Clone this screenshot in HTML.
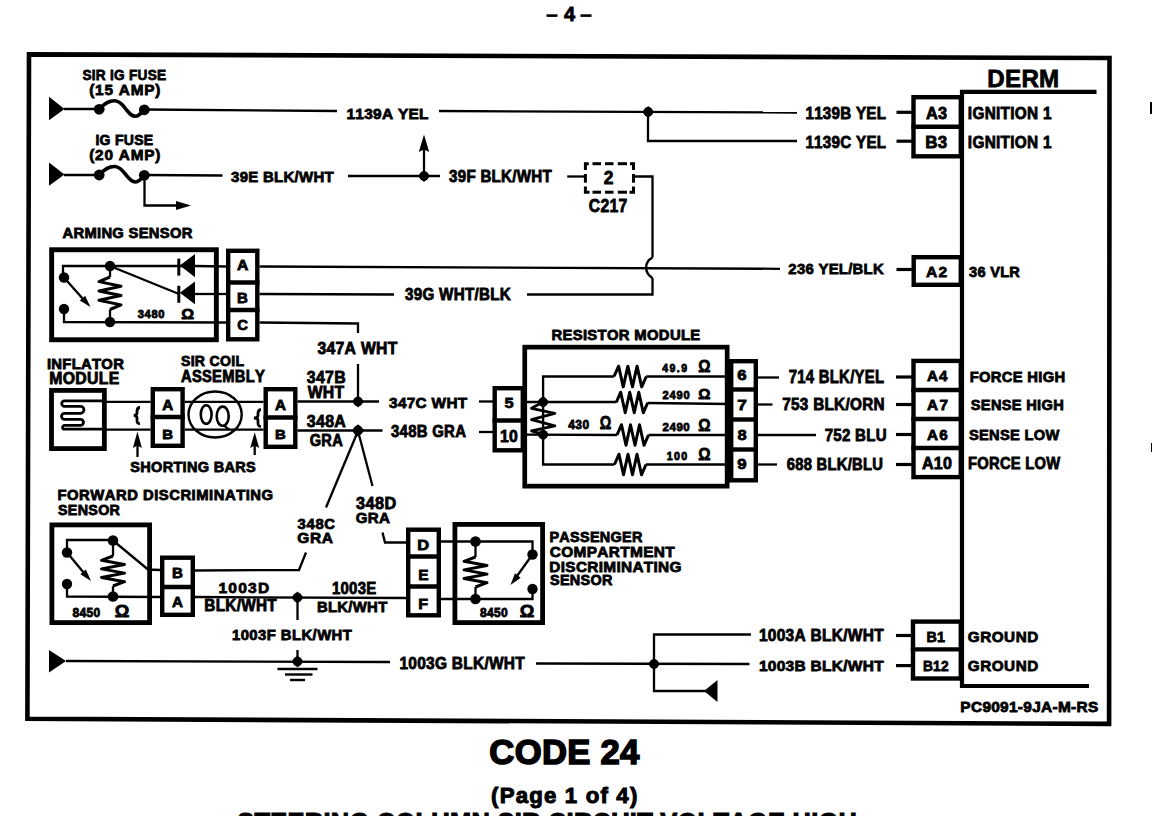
<!DOCTYPE html>
<html><head><meta charset="utf-8"><style>
html,body{margin:0;padding:0;background:#fff;}
svg{display:block;}
text{font-family:"Liberation Sans",sans-serif;font-weight:bold;fill:#000;stroke:#000;font-kerning:none;font-variant-ligatures:none;}
</style></head><body>
<svg width="1152" height="816" viewBox="0 0 1152 816">
<rect x="0" y="0" width="1152" height="816" fill="#fff"/>
<g stroke="#000" stroke-linecap="butt" fill="none">
<rect x="546.5" y="14.3" width="11" height="2.6" fill="#000" stroke="none"/>
<rect x="580.5" y="14.3" width="11" height="2.6" fill="#000" stroke="none"/>
<text transform="translate(564.09,20.80) scale(0.9895,1)" font-size="20.20" letter-spacing="0.000" stroke-width="0.8">4</text>
<path d="M29,54.4 L1109.5,58 L1109.1,723.9 L27.4,718.8 Z" stroke-width="4.6" fill="none"/>
<text transform="translate(82.46,79.80) scale(0.8770,1)" font-size="15.55" letter-spacing="0.300" stroke-width="0.8">SIR IG FUSE</text>
<text transform="translate(89.14,94.80) scale(1.0000,1)" font-size="15.33" letter-spacing="0.804" stroke-width="0.8">(15 AMP)</text>
<polygon points="49,96.8 64.5,108.9 49,120.2" stroke="none" fill="#000"/>
<line x1="64" y1="109" x2="99.5" y2="109" stroke-width="2.3"/>
<circle cx="99.2" cy="109.3" r="5.4" stroke="none" fill="#000"/>
<circle cx="144.3" cy="109.8" r="5.4" stroke="none" fill="#000"/>
<path d="M99.2,109.3 C105,103 109,100.5 115,100.8 C121,101.2 124,107 127,110.5 C130,114 132,116.3 135.5,116.3 C139,116.3 141,113 144.3,109.8" stroke-width="3.6" fill="none"/>
<line x1="144.5" y1="109.5" x2="337" y2="111" stroke-width="2.3"/>
<text transform="translate(346.42,118.80) scale(0.9922,1)" font-size="15.55" letter-spacing="0.300" stroke-width="0.8">1139A YEL</text>
<line x1="439" y1="111" x2="797" y2="112.5" stroke-width="2.3"/>
<polygon points="642.2,111.9 648.2,105.9 654.2,111.9 648.2,117.9" stroke="none" fill="#000"/>
<circle cx="648.2" cy="111.9" r="4.80" stroke="none" fill="#000"/>
<polyline points="648.00,112.00 648.00,141.00 797.00,141.00" stroke-width="2.3" fill="none"/>
<text transform="translate(805.42,118.80) scale(0.9321,1)" font-size="16.28" letter-spacing="0.300" stroke-width="0.8">1139B YEL</text>
<text transform="translate(805.40,147.80) scale(0.8937,1)" font-size="17.01" letter-spacing="0.300" stroke-width="0.8">1139C YEL</text>
<line x1="896.5" y1="112.3" x2="912" y2="112.3" stroke-width="3.2"/>
<line x1="896.5" y1="141.2" x2="912" y2="141.2" stroke-width="3.2"/>
<rect x="913.5" y="97.2" width="47.30000000000005" height="59.1" stroke-width="4.4" fill="none"/>
<line x1="911.3" y1="126.8" x2="963" y2="126.8" stroke-width="4.4"/>
<text transform="translate(925.99,118.80) scale(1.0000,1)" font-size="16.28" letter-spacing="0.384" stroke-width="0.8">A3</text>
<text transform="translate(925.27,147.80) scale(0.9959,1)" font-size="17.01" letter-spacing="0.300" stroke-width="0.8">B3</text>
<text transform="translate(967.85,118.80) scale(0.9444,1)" font-size="16.28" letter-spacing="0.300" stroke-width="0.8">IGNITION 1</text>
<text transform="translate(967.83,147.80) scale(0.9056,1)" font-size="17.01" letter-spacing="0.300" stroke-width="0.8">IGNITION 1</text>
<text transform="translate(987.28,86.80) scale(0.9940,1)" font-size="24.27" letter-spacing="0.300" stroke-width="0.8">DERM</text>
<line x1="960" y1="91.8" x2="1096.5" y2="91.8" stroke-width="4.2"/>
<line x1="962" y1="90" x2="962" y2="688" stroke-width="4.2"/>
<line x1="960" y1="686" x2="1089" y2="686" stroke-width="4.2"/>
<text transform="translate(95.44,145.30) scale(0.9447,1)" font-size="14.83" letter-spacing="0.300" stroke-width="0.8">IG FUSE</text>
<text transform="translate(89.14,159.80) scale(1.0000,1)" font-size="15.33" letter-spacing="0.804" stroke-width="0.8">(20 AMP)</text>
<polygon points="49,162.5 64.5,174.5 49,185.8" stroke="none" fill="#000"/>
<line x1="64" y1="175" x2="99.5" y2="175" stroke-width="2.3"/>
<circle cx="99.2" cy="175" r="5.4" stroke="none" fill="#000"/>
<circle cx="144.3" cy="175.3" r="5.4" stroke="none" fill="#000"/>
<path d="M99.2,175 C105,168.7 109,166.2 115,166.5 C121,166.9 124,172.7 127,176.2 C130,179.7 132,182 135.5,182 C139,182 141,178.7 144.3,175.3" stroke-width="3.6" fill="none"/>
<line x1="144.5" y1="175" x2="222.5" y2="175.5" stroke-width="2.3"/>
<polyline points="144.50,175.00 144.50,205.50 180.00,205.50" stroke-width="2.3" fill="none"/>
<polygon points="191,205.5 176,201 176,210" stroke="none" fill="#000"/>
<text transform="translate(231.04,181.80) scale(0.9629,1)" font-size="15.55" letter-spacing="0.300" stroke-width="0.8">39E BLK/WHT</text>
<line x1="348" y1="176" x2="440" y2="176" stroke-width="2.3"/>
<polygon points="418,176 424,170 430,176 424,182" stroke="none" fill="#000"/>
<circle cx="424" cy="176" r="4.80" stroke="none" fill="#000"/>
<line x1="424" y1="176" x2="424" y2="148" stroke-width="2.3"/>
<polygon points="424,134.5 418.8,152 424,149.5 429.2,152" stroke="none" fill="#000"/>
<text transform="translate(449.02,182.30) scale(0.9290,1)" font-size="16.28" letter-spacing="0.300" stroke-width="0.8">39F BLK/WHT</text>
<line x1="567.2" y1="176.5" x2="585.4" y2="176.5" stroke-width="2.3"/>
<polyline points="585.40,170.00 585.40,163.70 588.80,163.70" stroke-width="3.0" fill="none"/>
<polyline points="630.00,163.70 633.50,163.70 633.50,170.00" stroke-width="3.0" fill="none"/>
<polyline points="585.40,186.50 585.40,192.20 589.50,192.20" stroke-width="3.0" fill="none"/>
<polyline points="629.50,192.20 633.50,192.20 633.50,186.50" stroke-width="3.0" fill="none"/>
<line x1="592.5" y1="163.7" x2="601" y2="163.7" stroke-width="3.0"/>
<line x1="592.5" y1="192.2" x2="601" y2="192.2" stroke-width="3.0"/>
<line x1="605" y1="163.7" x2="613.5" y2="163.7" stroke-width="3.0"/>
<line x1="605" y1="192.2" x2="613.5" y2="192.2" stroke-width="3.0"/>
<line x1="617.8" y1="163.7" x2="627" y2="163.7" stroke-width="3.0"/>
<line x1="617.8" y1="192.2" x2="627" y2="192.2" stroke-width="3.0"/>
<line x1="585.4" y1="174" x2="585.4" y2="182.7" stroke-width="3.0"/>
<line x1="633.5" y1="174" x2="633.5" y2="182.7" stroke-width="3.0"/>
<text transform="translate(603.69,184.40) scale(0.9819,1)" font-size="17.59" letter-spacing="0.000" stroke-width="0.8">2</text>
<text transform="translate(588.81,211.60) scale(0.8947,1)" font-size="17.59" letter-spacing="0.300" stroke-width="0.8">C217</text>
<polyline points="633.50,176.50 652.50,176.50 652.50,257.50" stroke-width="2.3" fill="none"/>
<path d="M652.5,257.5 C644,262 644,273 652.5,278" stroke-width="2.4" fill="none"/>
<polyline points="652.50,278.00 652.50,294.50 527.00,294.50" stroke-width="2.3" fill="none"/>
<text transform="translate(62.53,238.30) scale(0.9956,1)" font-size="14.83" letter-spacing="0.300" stroke-width="0.8">ARMING SENSOR</text>
<rect x="51.650000000000006" y="249.75" width="164.70000000000002" height="89.99999999999997" stroke-width="4.9" fill="none"/>
<rect x="228.2" y="250.79999999999998" width="29.1" height="88.5" stroke-width="4.4" fill="none"/>
<line x1="226" y1="282.5" x2="259.5" y2="282.5" stroke-width="4.4"/>
<line x1="226" y1="310" x2="259.5" y2="310" stroke-width="4.4"/>
<text transform="translate(237.04,270.10) scale(1.0804,1)" font-size="14.53" letter-spacing="0.000" stroke-width="0.8">A</text>
<text transform="translate(237.12,303.30) scale(1.0640,1)" font-size="14.10" letter-spacing="0.000" stroke-width="0.8">B</text>
<text transform="translate(237.23,330.00) scale(0.9657,1)" font-size="15.41" letter-spacing="0.000" stroke-width="0.8">C</text>
<polyline points="195.00,266.00 63.00,266.00 63.00,277.00" stroke-width="2.3" fill="none"/>
<circle cx="64" cy="277.5" r="5.2" stroke="none" fill="#000"/>
<line x1="64" y1="277.5" x2="83" y2="299" stroke-width="2.3"/>
<polygon points="90.5,307 79.76414220781885,300.5423411776354 85.09171073626965,295.69909706086196" stroke="none" fill="#000"/>
<circle cx="64" cy="309" r="5.2" stroke="none" fill="#000"/>
<polyline points="64.00,309.00 64.00,322.00 226.00,322.50" stroke-width="2.3" fill="none"/>
<circle cx="110" cy="266" r="5.2" stroke="none" fill="#000"/>
<circle cx="110" cy="322" r="5.2" stroke="none" fill="#000"/>
<line x1="110" y1="266" x2="110" y2="277" stroke-width="2.3"/>
<polyline points="110.00,277.00 99.00,281.64 121.00,286.29 99.00,290.93 121.00,295.57 99.00,300.21 121.00,304.86 110.00,309.50" stroke-width="3" fill="none" stroke-linejoin="round"/>
<line x1="110" y1="309.5" x2="110" y2="322" stroke-width="2.3"/>
<line x1="110" y1="266" x2="179" y2="294" stroke-width="2.3"/>
<polygon points="179.8,265.6 195,254.00000000000003 195,277.20000000000005" stroke="none" fill="#000"/>
<line x1="178.8" y1="258.6" x2="178.8" y2="275.6" stroke-width="3"/>
<polygon points="179.8,292.8 195,281.40000000000003 195,304.2" stroke="none" fill="#000"/>
<line x1="178.8" y1="285.8" x2="178.8" y2="302.8" stroke-width="3"/>
<text transform="translate(137.74,317.90) scale(1.0000,1)" font-size="11.13" letter-spacing="0.653" stroke-width="0.8">3480</text>
<text transform="translate(181.37,319.30) scale(1.0603,1)" font-size="15.12" letter-spacing="0.000" stroke-width="0.8">Ω</text>
<line x1="195" y1="266" x2="226" y2="266.5" stroke-width="2.3"/>
<line x1="195" y1="294" x2="226" y2="294" stroke-width="2.3"/>
<line x1="259.5" y1="266.5" x2="780" y2="268.8" stroke-width="2.3"/>
<line x1="259.5" y1="294" x2="394" y2="294.5" stroke-width="2.3"/>
<text transform="translate(405.02,300.30) scale(0.9330,1)" font-size="16.28" letter-spacing="0.300" stroke-width="0.8">39G WHT/BLK</text>
<polyline points="259.50,322.50 358.00,323.50 358.00,333.00" stroke-width="2.3" fill="none"/>
<text transform="translate(317.53,354.30) scale(0.9655,1)" font-size="16.28" letter-spacing="0.300" stroke-width="0.8">347A WHT</text>
<line x1="358" y1="364" x2="358" y2="403" stroke-width="2.3"/>
<text transform="translate(788.37,274.30) scale(0.9558,1)" font-size="15.55" letter-spacing="0.300" stroke-width="0.8">236 YEL/BLK</text>
<line x1="896.5" y1="269.5" x2="912" y2="269.5" stroke-width="3.2"/>
<rect x="913.7" y="257.2" width="47.1" height="27.6" stroke-width="4.4" fill="none"/>
<text transform="translate(926.01,277.30) scale(1.0000,1)" font-size="15.55" letter-spacing="1.329" stroke-width="0.8">A2</text>
<text transform="translate(969.04,277.30) scale(0.9384,1)" font-size="15.55" letter-spacing="0.300" stroke-width="0.8">36 VLR</text>
<text transform="translate(46.91,369.30) scale(0.9994,1)" font-size="14.83" letter-spacing="0.300" stroke-width="0.8">INFLATOR</text>
<text transform="translate(49.33,383.80) scale(0.9703,1)" font-size="16.28" letter-spacing="0.300" stroke-width="0.8">MODULE</text>
<text transform="translate(180.97,366.30) scale(0.9508,1)" font-size="14.83" letter-spacing="0.300" stroke-width="0.8">SIR COIL</text>
<text transform="translate(181.00,382.30) scale(0.9063,1)" font-size="16.28" letter-spacing="0.300" stroke-width="0.8">ASSEMBLY</text>
<rect x="51.5" y="390.4" width="52.85" height="58.2" stroke-width="4.8" fill="none"/>
<path d="M106,400.9 H64.5 A2.75,2.75 0 0 0 64.5,406.4 H80.5 A3.45,3.45 0 0 1 80.5,413.3 H64.5 A3,3 0 0 0 64.5,419.3 H80.5 A3,3 0 0 1 80.5,425.3 H64.5 A1.95,1.95 0 0 0 64.5,429.2 H106" stroke-width="2.8" fill="none"/>
<line x1="106" y1="401.8" x2="150.6" y2="401.8" stroke-width="2.3"/>
<line x1="106" y1="429.7" x2="150.6" y2="429.7" stroke-width="2.3"/>
<rect x="152.79999999999998" y="389.2" width="29.80000000000002" height="56.6" stroke-width="4.4" fill="none"/>
<line x1="150.6" y1="417" x2="184.8" y2="417" stroke-width="4.4"/>
<text transform="translate(162.25,409.80) scale(1.0722,1)" font-size="14.10" letter-spacing="0.000" stroke-width="0.8">A</text>
<text transform="translate(162.15,438.80) scale(1.1167,1)" font-size="13.37" letter-spacing="0.000" stroke-width="0.8">B</text>
<line x1="184.8" y1="401.8" x2="263.5" y2="401.8" stroke-width="2.3"/>
<line x1="184.8" y1="429.7" x2="263.5" y2="429.7" stroke-width="2.3"/>
<ellipse cx="215.1" cy="414.5" rx="26.6" ry="23" fill="none" stroke-width="2.4"/>
<ellipse cx="206.2" cy="414.5" rx="5.4" ry="9.3" fill="none" stroke-width="2.6"/>
<ellipse cx="222.7" cy="416.2" rx="6" ry="9.6" fill="none" stroke-width="2.6"/>
<path d="M224,425.6 C226,427 227,428.5 229.5,429.7" stroke-width="2.4" fill="none"/>
<path d="M140,407.5 C137.5,407.5 137,409 137,411.5 L137,413 C137,414.5 136,415.2 133.8,415.4 C136,415.6 137,416.3 137,418 L137,420.5 C137,422.8 137.5,423.6 140,423.6" stroke-width="2.8" fill="none"/>
<path d="M261,409.6 C258.5,409.6 258,411 258,413.5 L258,415.5 C258,417 257,417.8 254,418 C257,418.2 258,419 258,420.5 L258,423 C258,425.5 258.5,426.4 261,426.4" stroke-width="2.8" fill="none"/>
<line x1="137.5" y1="457" x2="137.5" y2="444" stroke-width="2.3"/>
<polygon points="137.4,431.5 132.9,448 137.4,445.5 141.9,448" stroke="none" fill="#000"/>
<line x1="254.7" y1="455" x2="254.7" y2="444" stroke-width="2.3"/>
<polygon points="254.7,432.2 250.2,448 254.7,445.5 259.2,448" stroke="none" fill="#000"/>
<text transform="translate(130.27,471.80) scale(0.9625,1)" font-size="15.12" letter-spacing="0.300" stroke-width="0.8">SHORTING BARS</text>
<rect x="265.7" y="389.2" width="29.6" height="57.6" stroke-width="4.4" fill="none"/>
<line x1="263.5" y1="417.5" x2="297.5" y2="417.5" stroke-width="4.4"/>
<text transform="translate(275.05,409.80) scale(1.0722,1)" font-size="14.10" letter-spacing="0.000" stroke-width="0.8">A</text>
<text transform="translate(274.95,438.80) scale(1.1167,1)" font-size="13.37" letter-spacing="0.000" stroke-width="0.8">B</text>
<line x1="297.5" y1="401.5" x2="379" y2="401.5" stroke-width="2.3"/>
<line x1="297.5" y1="430.5" x2="382.5" y2="430.5" stroke-width="2.3"/>
<polygon points="352,401.5 358,395.5 364,401.5 358,407.5" stroke="none" fill="#000"/>
<circle cx="358" cy="401.5" r="4.80" stroke="none" fill="#000"/>
<polygon points="351.8,430.5 358,424.3 364.2,430.5 358,436.7" stroke="none" fill="#000"/>
<circle cx="358" cy="430.5" r="4.96" stroke="none" fill="#000"/>
<text transform="translate(306.81,383.05) scale(0.9346,1)" font-size="17.01" letter-spacing="0.300" stroke-width="0.8">347B</text>
<text transform="translate(307.67,397.60) scale(0.9709,1)" font-size="16.21" letter-spacing="0.300" stroke-width="0.8">WHT</text>
<text transform="translate(306.81,426.80) scale(0.9394,1)" font-size="17.01" letter-spacing="0.300" stroke-width="0.8">348A</text>
<text transform="translate(309.66,446.10) scale(0.8992,1)" font-size="16.28" letter-spacing="0.300" stroke-width="0.8">GRA</text>
<text transform="translate(389.04,408.30) scale(0.9901,1)" font-size="15.55" letter-spacing="0.300" stroke-width="0.8">347C WHT</text>
<text transform="translate(391.02,437.30) scale(0.9179,1)" font-size="16.28" letter-spacing="0.300" stroke-width="0.8">348B GRA</text>
<line x1="479" y1="401.5" x2="493" y2="401.5" stroke-width="2.3"/>
<line x1="479" y1="432" x2="493" y2="432" stroke-width="2.3"/>
<rect x="494.7" y="388.2" width="28.1" height="62.1" stroke-width="4.4" fill="none"/>
<line x1="492.5" y1="420.5" x2="525" y2="420.5" stroke-width="4.4"/>
<text transform="translate(504.42,408.30) scale(1.0541,1)" font-size="15.55" letter-spacing="0.000" stroke-width="0.8">5</text>
<text transform="translate(499.89,441.80) scale(0.9706,1)" font-size="16.28" letter-spacing="0.300" stroke-width="0.8">10</text>
<text transform="translate(551.41,340.30) scale(1.0000,1)" font-size="14.83" letter-spacing="0.330" stroke-width="0.8">RESISTOR MODULE</text>
<rect x="524.75" y="347.15000000000003" width="202.40000000000003" height="139.0" stroke-width="4.7" fill="none"/>
<rect x="731.2" y="361.2" width="24.6" height="119.1" stroke-width="4.4" fill="none"/>
<line x1="729" y1="389.5" x2="758" y2="389.5" stroke-width="4.4"/>
<line x1="729" y1="419.5" x2="758" y2="419.5" stroke-width="4.4"/>
<line x1="729" y1="449.5" x2="758" y2="449.5" stroke-width="4.4"/>
<text transform="translate(737.34,380.30) scale(1.1297,1)" font-size="14.83" letter-spacing="0.000" stroke-width="0.8">6</text>
<text transform="translate(737.20,409.80) scale(1.1114,1)" font-size="15.55" letter-spacing="0.000" stroke-width="0.8">7</text>
<text transform="translate(737.40,439.80) scale(1.0616,1)" font-size="15.55" letter-spacing="0.000" stroke-width="0.8">8</text>
<text transform="translate(737.35,469.30) scale(1.0800,1)" font-size="15.55" letter-spacing="0.000" stroke-width="0.8">9</text>
<polyline points="729.00,376.50 646.30,376.50" stroke-width="2.3" fill="none"/>
<polyline points="614.00,376.50 618.61,366.20 623.23,386.80 627.84,366.20 632.46,386.80 637.07,366.20 641.69,386.80 646.30,376.50" stroke-width="3" fill="none" stroke-linejoin="round"/>
<polyline points="614.00,376.50 543.10,376.50 543.10,464.50 614.50,464.50" stroke-width="2.3" fill="none"/>
<polyline points="614.50,464.50 619.00,454.20 623.50,474.80 628.00,454.20 632.50,474.80 637.00,454.20 641.50,474.80 646.00,464.50" stroke-width="3" fill="none" stroke-linejoin="round"/>
<line x1="646" y1="464.5" x2="729" y2="464.5" stroke-width="2.3"/>
<line x1="525" y1="402" x2="616.2" y2="402" stroke-width="2.3"/>
<polyline points="616.20,402.50 620.71,392.20 625.23,412.80 629.74,392.20 634.26,412.80 638.77,392.20 643.29,412.80 647.80,402.50" stroke-width="3" fill="none" stroke-linejoin="round"/>
<line x1="647.8" y1="403" x2="729" y2="404" stroke-width="2.3"/>
<line x1="525" y1="434.7" x2="617" y2="435" stroke-width="2.3"/>
<polyline points="617.00,435.00 621.50,424.70 626.00,445.30 630.50,424.70 635.00,445.30 639.50,424.70 644.00,445.30 648.50,435.00" stroke-width="3" fill="none" stroke-linejoin="round"/>
<line x1="648.5" y1="435" x2="729" y2="435" stroke-width="2.3"/>
<polygon points="537.1,402.1 543.1,396.1 549.1,402.1 543.1,408.1" stroke="none" fill="#000"/>
<circle cx="543.1" cy="402.1" r="4.80" stroke="none" fill="#000"/>
<polygon points="537.1,434.7 543.1,428.7 549.1,434.7 543.1,440.7" stroke="none" fill="#000"/>
<circle cx="543.1" cy="434.7" r="4.80" stroke="none" fill="#000"/>
<polyline points="543.10,402.10 531.50,408.30 554.80,413.30 531.50,419.60 554.80,425.90 531.50,430.80 543.10,434.70" stroke-width="2.8" fill="none" stroke-linejoin="round"/>
<text transform="translate(662.24,371.90) scale(1.0000,1)" font-size="10.47" letter-spacing="1.460" stroke-width="0.8">49.9</text>
<text transform="translate(698.27,371.90) scale(0.9741,1)" font-size="15.70" letter-spacing="0.000" stroke-width="0.8">Ω</text>
<text transform="translate(662.52,398.70) scale(1.0000,1)" font-size="11.05" letter-spacing="0.887" stroke-width="0.8">2490</text>
<text transform="translate(698.29,398.50) scale(1.0090,1)" font-size="15.12" letter-spacing="0.000" stroke-width="0.8">Ω</text>
<text transform="translate(662.50,430.80) scale(1.0000,1)" font-size="11.48" letter-spacing="0.575" stroke-width="0.8">2490</text>
<text transform="translate(698.26,430.80) scale(0.9416,1)" font-size="16.28" letter-spacing="0.000" stroke-width="0.8">Ω</text>
<text transform="translate(666.73,460.20) scale(1.0000,1)" font-size="10.61" letter-spacing="1.300" stroke-width="0.8">100</text>
<text transform="translate(698.24,460.20) scale(0.9111,1)" font-size="16.86" letter-spacing="0.000" stroke-width="0.8">Ω</text>
<text transform="translate(568.22,428.80) scale(1.0000,1)" font-size="11.95" letter-spacing="0.462" stroke-width="0.8">430</text>
<text transform="translate(599.73,428.80) scale(0.7799,1)" font-size="18.46" letter-spacing="0.000" stroke-width="0.8">Ω</text>
<line x1="758" y1="377.5" x2="779" y2="377.5" stroke-width="2.3"/>
<text transform="translate(788.70,383.30) scale(0.8417,1)" font-size="17.73" letter-spacing="0.300" stroke-width="0.8">714 BLK/YEL</text>
<line x1="758" y1="404.5" x2="772.5" y2="404.5" stroke-width="2.3"/>
<text transform="translate(782.22,410.30) scale(0.9412,1)" font-size="16.28" letter-spacing="0.300" stroke-width="0.8">753 BLK/ORN</text>
<line x1="758" y1="435" x2="816" y2="435" stroke-width="2.3"/>
<text transform="translate(824.71,441.30) scale(0.8856,1)" font-size="17.01" letter-spacing="0.300" stroke-width="0.8">752 BLU</text>
<line x1="758" y1="464.5" x2="777" y2="464.5" stroke-width="2.3"/>
<text transform="translate(786.82,470.30) scale(0.9067,1)" font-size="16.28" letter-spacing="0.300" stroke-width="0.8">688 BLK/BLU</text>
<line x1="896" y1="377" x2="912" y2="377" stroke-width="3.2"/>
<line x1="896" y1="404.5" x2="912" y2="404.5" stroke-width="3.2"/>
<line x1="896" y1="434.5" x2="912" y2="434.5" stroke-width="3.2"/>
<line x1="896" y1="464.5" x2="912" y2="464.5" stroke-width="3.2"/>
<rect x="913.5" y="360.9" width="47.30000000000005" height="116.20000000000002" stroke-width="4.4" fill="none"/>
<line x1="911.3" y1="390" x2="963" y2="390" stroke-width="4.4"/>
<line x1="911.3" y1="419" x2="963" y2="419" stroke-width="4.4"/>
<line x1="911.3" y1="448" x2="963" y2="448" stroke-width="4.4"/>
<text transform="translate(926.97,381.30) scale(1.0000,1)" font-size="15.12" letter-spacing="1.034" stroke-width="0.8">A4</text>
<text transform="translate(926.97,410.10) scale(1.0000,1)" font-size="15.26" letter-spacing="1.441" stroke-width="0.8">A7</text>
<text transform="translate(926.97,439.60) scale(1.0000,1)" font-size="15.26" letter-spacing="1.322" stroke-width="0.8">A6</text>
<text transform="translate(921.94,469.10) scale(0.9673,1)" font-size="16.57" letter-spacing="0.300" stroke-width="0.8">A10</text>
<text transform="translate(969.70,381.60) scale(0.9696,1)" font-size="15.26" letter-spacing="0.300" stroke-width="0.8">FORCE HIGH</text>
<text transform="translate(970.76,410.10) scale(0.9608,1)" font-size="15.26" letter-spacing="0.300" stroke-width="0.8">SENSE HIGH</text>
<text transform="translate(968.96,439.60) scale(0.9616,1)" font-size="15.26" letter-spacing="0.300" stroke-width="0.8">SENSE LOW</text>
<text transform="translate(967.97,469.10) scale(0.8904,1)" font-size="16.57" letter-spacing="0.300" stroke-width="0.8">FORCE LOW</text>
<text transform="translate(57.41,500.30) scale(1.0000,1)" font-size="14.83" letter-spacing="0.502" stroke-width="0.8">FORWARD DISCRIMINATING</text>
<text transform="translate(57.97,515.30) scale(0.9660,1)" font-size="14.83" letter-spacing="0.300" stroke-width="0.8">SENSOR</text>
<rect x="51.9" y="524.9" width="97.7" height="97.7" stroke-width="4.8" fill="none"/>
<polyline points="113.00,540.00 67.00,540.00 67.00,552.50" stroke-width="2.3" fill="none"/>
<circle cx="67" cy="552.5" r="5.2" stroke="none" fill="#000"/>
<line x1="67" y1="552.5" x2="84" y2="573" stroke-width="2.3"/>
<polygon points="91,581 80.40927554111394,574.3069771077672 85.84243530069116,569.5824903603087" stroke="none" fill="#000"/>
<circle cx="67" cy="584" r="5.2" stroke="none" fill="#000"/>
<polyline points="67.00,584.00 67.00,596.50 160.00,597.00" stroke-width="2.3" fill="none"/>
<circle cx="113" cy="540.5" r="5.3" stroke="none" fill="#000"/>
<circle cx="113" cy="596.5" r="5.3" stroke="none" fill="#000"/>
<line x1="113" y1="540" x2="113" y2="556" stroke-width="2.3"/>
<polyline points="113.00,556.00 101.50,560.29 124.50,564.57 101.50,568.86 124.50,573.14 101.50,577.43 124.50,581.71 113.00,586.00" stroke-width="3" fill="none" stroke-linejoin="round"/>
<line x1="113" y1="586" x2="113" y2="596.5" stroke-width="2.3"/>
<polyline points="113.00,540.50 148.00,569.50 160.00,570.00" stroke-width="2.3" fill="none"/>
<text transform="translate(72.50,616.80) scale(0.9512,1)" font-size="12.65" letter-spacing="0.300" stroke-width="0.8">8450</text>
<text transform="translate(114.71,616.80) scale(1.1171,1)" font-size="16.28" letter-spacing="0.000" stroke-width="0.8">Ω</text>
<rect x="162.2" y="557.7" width="30.6" height="57.1" stroke-width="4.4" fill="none"/>
<line x1="160" y1="587" x2="195" y2="587" stroke-width="4.4"/>
<text transform="translate(171.88,578.30) scale(0.9723,1)" font-size="15.55" letter-spacing="0.000" stroke-width="0.8">B</text>
<text transform="translate(172.01,606.80) scale(0.9792,1)" font-size="15.55" letter-spacing="0.000" stroke-width="0.8">A</text>
<polyline points="195.00,570.50 299.00,570.00 306.00,552.50" stroke-width="2.3" fill="none"/>
<text transform="translate(297.56,529.30) scale(1.0000,1)" font-size="14.83" letter-spacing="0.668" stroke-width="0.8">348C</text>
<text transform="translate(297.26,543.30) scale(1.0000,1)" font-size="15.55" letter-spacing="0.594" stroke-width="0.8">GRA</text>
<line x1="326" y1="507.5" x2="358" y2="431" stroke-width="2.3"/>
<line x1="372.5" y1="486" x2="358" y2="431" stroke-width="2.3"/>
<text transform="translate(356.03,508.80) scale(1.0000,1)" font-size="16.28" letter-spacing="0.447" stroke-width="0.8">348D</text>
<text transform="translate(355.77,523.30) scale(0.9739,1)" font-size="15.55" letter-spacing="0.300" stroke-width="0.8">GRA</text>
<polyline points="382.50,532.50 385.00,542.50 406.00,542.50" stroke-width="2.3" fill="none"/>
<line x1="195" y1="597" x2="406" y2="598" stroke-width="2.3"/>
<polygon points="291.5,597.5 297.5,591.5 303.5,597.5 297.5,603.5" stroke="none" fill="#000"/>
<circle cx="297.5" cy="597.5" r="4.80" stroke="none" fill="#000"/>
<line x1="297.5" y1="597.5" x2="297.5" y2="620" stroke-width="2.3"/>
<text transform="translate(218.42,593.30) scale(1.0000,1)" font-size="15.55" letter-spacing="1.251" stroke-width="0.8">1003D</text>
<text transform="translate(204.35,611.30) scale(0.9426,1)" font-size="16.28" letter-spacing="0.300" stroke-width="0.8">BLK/WHT</text>
<text transform="translate(331.93,593.80) scale(0.9175,1)" font-size="16.28" letter-spacing="0.300" stroke-width="0.8">1003E</text>
<text transform="translate(316.89,611.80) scale(0.9578,1)" font-size="15.55" letter-spacing="0.300" stroke-width="0.8">BLK/WHT</text>
<text transform="translate(231.97,640.30) scale(1.0000,1)" font-size="14.83" letter-spacing="0.441" stroke-width="0.8">1003F BLK/WHT</text>
<line x1="297.5" y1="650" x2="297.5" y2="661" stroke-width="2.3"/>
<rect x="408.2" y="529.7" width="30.6" height="85.6" stroke-width="4.4" fill="none"/>
<line x1="406" y1="556.5" x2="441" y2="556.5" stroke-width="4.4"/>
<line x1="406" y1="586.5" x2="441" y2="586.5" stroke-width="4.4"/>
<text transform="translate(417.34,550.30) scale(1.1120,1)" font-size="14.83" letter-spacing="0.000" stroke-width="0.8">D</text>
<text transform="translate(418.13,579.80) scale(1.0419,1)" font-size="14.83" letter-spacing="0.000" stroke-width="0.8">E</text>
<text transform="translate(418.36,609.30) scale(1.0816,1)" font-size="14.83" letter-spacing="0.000" stroke-width="0.8">F</text>
<rect x="454.9" y="524.4" width="87.7" height="98.2" stroke-width="4.8" fill="none"/>
<polyline points="441.00,541.50 532.50,541.50 532.50,554.00" stroke-width="2.3" fill="none"/>
<circle cx="475.5" cy="541.5" r="5.3" stroke="none" fill="#000"/>
<circle cx="532.5" cy="554.5" r="5.2" stroke="none" fill="#000"/>
<line x1="532.5" y1="554.5" x2="517" y2="576" stroke-width="2.3"/>
<polygon points="510.5,585 514.9630827694197,573.2935533916859 520.6699754909729,577.6834708698036" stroke="none" fill="#000"/>
<circle cx="532.5" cy="589" r="5.2" stroke="none" fill="#000"/>
<polyline points="532.50,589.00 532.50,599.00 441.00,599.00" stroke-width="2.3" fill="none"/>
<circle cx="475.5" cy="599" r="5.3" stroke="none" fill="#000"/>
<line x1="475.5" y1="541" x2="475.5" y2="557" stroke-width="2.3"/>
<polyline points="475.50,557.00 464.00,561.29 487.00,565.57 464.00,569.86 487.00,574.14 464.00,578.43 487.00,582.71 475.50,587.00" stroke-width="3" fill="none" stroke-linejoin="round"/>
<line x1="475.5" y1="587" x2="475.5" y2="599" stroke-width="2.3"/>
<text transform="translate(480.00,616.80) scale(0.9512,1)" font-size="12.65" letter-spacing="0.300" stroke-width="0.8">8450</text>
<text transform="translate(519.71,616.80) scale(1.1171,1)" font-size="16.28" letter-spacing="0.000" stroke-width="0.8">Ω</text>
<text transform="translate(549.42,542.30) scale(0.9737,1)" font-size="14.83" letter-spacing="0.300" stroke-width="0.8">PASSENGER</text>
<text transform="translate(549.76,556.80) scale(0.9946,1)" font-size="15.55" letter-spacing="0.300" stroke-width="0.8">COMPARTMENT</text>
<text transform="translate(549.37,571.80) scale(0.9902,1)" font-size="15.55" letter-spacing="0.300" stroke-width="0.8">DISCRIMINATING</text>
<text transform="translate(549.97,585.30) scale(0.9738,1)" font-size="14.83" letter-spacing="0.300" stroke-width="0.8">SENSOR</text>
<polygon points="49,650 66,661 49,672.5" stroke="none" fill="#000"/>
<line x1="66" y1="661" x2="390" y2="662" stroke-width="2.3"/>
<polygon points="291.5,661.5 297.5,655.5 303.5,661.5 297.5,667.5" stroke="none" fill="#000"/>
<circle cx="297.5" cy="661.5" r="4.80" stroke="none" fill="#000"/>
<line x1="277.5" y1="669" x2="317.5" y2="669" stroke-width="2.4"/>
<line x1="285" y1="674.5" x2="312.5" y2="674.5" stroke-width="2.4"/>
<line x1="290" y1="680" x2="305" y2="680" stroke-width="2.4"/>
<text transform="translate(399.39,669.30) scale(0.9103,1)" font-size="17.01" letter-spacing="0.300" stroke-width="0.8">1003G BLK/WHT</text>
<line x1="536" y1="663.5" x2="749.5" y2="664" stroke-width="2.3"/>
<polygon points="648,664 654,658 660,664 654,670" stroke="none" fill="#000"/>
<circle cx="654" cy="664" r="4.80" stroke="none" fill="#000"/>
<polyline points="751.00,634.50 654.00,634.50 654.00,691.00 706.00,691.00" stroke-width="2.3" fill="none"/>
<polygon points="704,691 717.5,680 717.5,702" stroke="none" fill="#000"/>
<text transform="translate(758.90,641.30) scale(0.9523,1)" font-size="16.28" letter-spacing="0.300" stroke-width="0.8">1003A BLK/WHT</text>
<text transform="translate(758.92,670.80) scale(0.9952,1)" font-size="15.55" letter-spacing="0.300" stroke-width="0.8">1003B BLK/WHT</text>
<line x1="896" y1="635.5" x2="911" y2="635.5" stroke-width="3.2"/>
<line x1="896" y1="665.6" x2="911" y2="665.6" stroke-width="3.2"/>
<rect x="913.0" y="621.6" width="47.80000000000005" height="56.90000000000007" stroke-width="4.4" fill="none"/>
<line x1="910.8" y1="649.4" x2="963" y2="649.4" stroke-width="4.4"/>
<text transform="translate(926.41,642.30) scale(0.9227,1)" font-size="15.55" letter-spacing="0.300" stroke-width="0.8">B1</text>
<text transform="translate(922.93,671.30) scale(0.8844,1)" font-size="15.55" letter-spacing="0.300" stroke-width="0.8">B12</text>
<text transform="translate(967.77,642.30) scale(1.0000,1)" font-size="15.26" letter-spacing="0.528" stroke-width="0.8">GROUND</text>
<text transform="translate(967.77,671.30) scale(1.0000,1)" font-size="15.26" letter-spacing="0.528" stroke-width="0.8">GROUND</text>
<text transform="translate(960.37,711.70) scale(1.0000,1)" font-size="15.41" letter-spacing="0.304" stroke-width="0.8">PC9091-9JA-M-RS</text>
<rect x="1150" y="102" width="2" height="12" fill="#000" stroke="none"/>
<rect x="1151" y="443" width="1" height="9" fill="#000" stroke="none"/>
<text transform="translate(489.37,763.90) scale(0.9890,1)" font-size="35.03" letter-spacing="0.300" stroke-width="1.6">CODE 24</text>
<text transform="translate(491.09,802.50) scale(1.0000,1)" font-size="22.24" letter-spacing="1.166" stroke-width="1.0">(Page 1 of 4)</text>
<text transform="translate(237.30,833.10) scale(0.8845,1)" font-size="28.78" letter-spacing="0.300" stroke-width="1.2">STEERING COLUMN SIR CIRCUIT VOLTAGE HIGH</text>
</g>
</svg>
</body></html>
